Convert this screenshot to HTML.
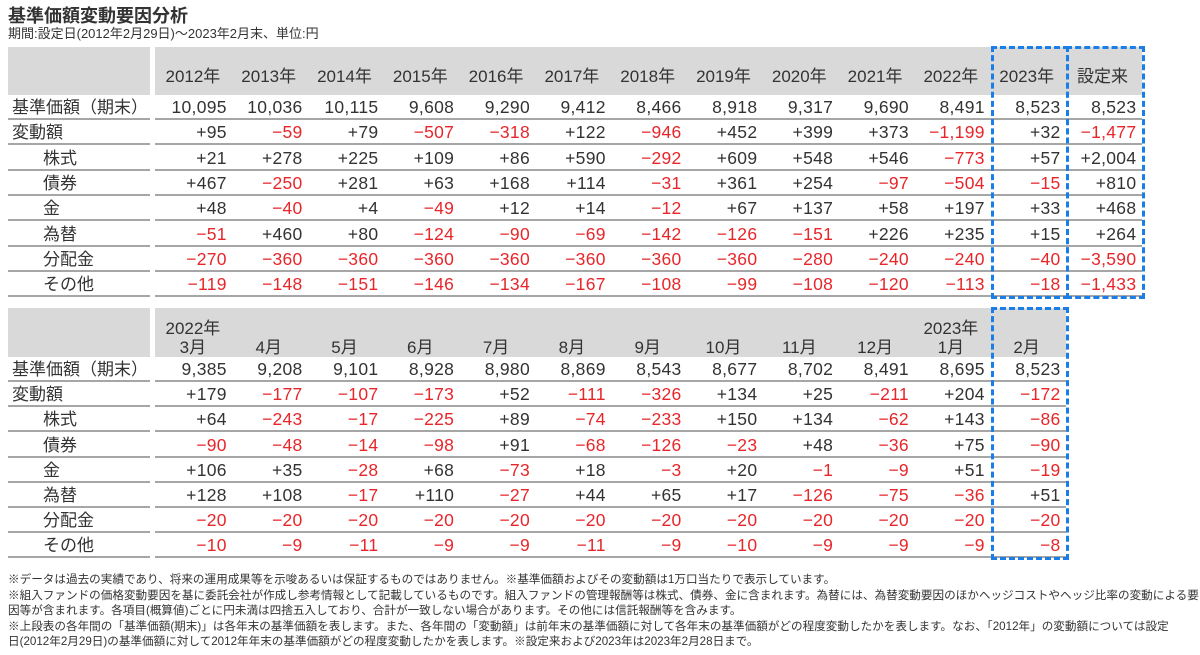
<!DOCTYPE html>
<html><head><meta charset="utf-8"><style>
body{margin:0;width:1200px;height:655px;background:#fff;position:relative;overflow:hidden;font-family:"Liberation Sans","Noto Sans CJK JP",sans-serif;color:#333}
.a{position:absolute}
.t{left:8px;top:2px;font-size:18px;font-weight:bold;color:#333}
.s{left:8px;top:23px;font-size:13px}
.gl{background:#d9d9d9}
.row{position:absolute;left:0;height:25px}
.lab{position:absolute;left:8px;width:142px;height:23px;border-bottom:2px solid #a6a6a6;font-size:17px;line-height:25px;white-space:nowrap}
.lab.i{text-indent:35px}.lab.n{text-indent:4px}
.dat{position:absolute;left:155px;height:23px;border-bottom:2px solid #a6a6a6;display:flex}
.dat span{width:75.8px;flex:none;text-align:right;padding-right:4px;box-sizing:border-box;font-size:17.5px;line-height:25px;letter-spacing:0.3px}
.r{color:#e8262a}
.hd{position:absolute;display:flex}
.hd span{width:75.8px;flex:none;text-align:center;font-size:17px}
.box{position:absolute;border:3px dashed #1a7ee6;box-sizing:border-box}
.fn{left:8px;font-size:11.6px;white-space:nowrap;line-height:15.6px}
</style></head><body>
<div class="a t">基準価額変動要因分析</div>
<div class="a s">期間:設定日(2012年2月29日)～2023年2月末、単位:円</div>

<div class="a gl" style="left:8px;top:47px;width:142px;height:48px"></div>
<div class="a gl" style="left:155px;top:47px;width:987px;height:48px"></div>
<div class="hd" style="left:155px;top:62px"><span>2012年</span><span>2013年</span><span>2014年</span><span>2015年</span><span>2016年</span><span>2017年</span><span>2018年</span><span>2019年</span><span>2020年</span><span>2021年</span><span>2022年</span><span>2023年</span><span>設定来</span></div>

<div class="row" style="top:95px"><div class="lab n">基準価額（期末）</div><div class="dat" style="width:987px"><span>10,095</span><span>10,036</span><span>10,115</span><span>9,608</span><span>9,290</span><span>9,412</span><span>8,466</span><span>8,918</span><span>9,317</span><span>9,690</span><span>8,491</span><span>8,523</span><span>8,523</span></div></div>
<div class="row" style="top:120.3px"><div class="lab n">変動額</div><div class="dat" style="width:987px"><span>+95</span><span class="r">−59</span><span>+79</span><span class="r">−507</span><span class="r">−318</span><span>+122</span><span class="r">−946</span><span>+452</span><span>+399</span><span>+373</span><span class="r">−1,199</span><span>+32</span><span class="r">−1,477</span></div></div>
<div class="row" style="top:145.6px"><div class="lab i">株式</div><div class="dat" style="width:987px"><span>+21</span><span>+278</span><span>+225</span><span>+109</span><span>+86</span><span>+590</span><span class="r">−292</span><span>+609</span><span>+548</span><span>+546</span><span class="r">−773</span><span>+57</span><span>+2,004</span></div></div>
<div class="row" style="top:170.9px"><div class="lab i">債券</div><div class="dat" style="width:987px"><span>+467</span><span class="r">−250</span><span>+281</span><span>+63</span><span>+168</span><span>+114</span><span class="r">−31</span><span>+361</span><span>+254</span><span class="r">−97</span><span class="r">−504</span><span class="r">−15</span><span>+810</span></div></div>
<div class="row" style="top:196.2px"><div class="lab i">金</div><div class="dat" style="width:987px"><span>+48</span><span class="r">−40</span><span>+4</span><span class="r">−49</span><span>+12</span><span>+14</span><span class="r">−12</span><span>+67</span><span>+137</span><span>+58</span><span>+197</span><span>+33</span><span>+468</span></div></div>
<div class="row" style="top:221.5px"><div class="lab i">為替</div><div class="dat" style="width:987px"><span class="r">−51</span><span>+460</span><span>+80</span><span class="r">−124</span><span class="r">−90</span><span class="r">−69</span><span class="r">−142</span><span class="r">−126</span><span class="r">−151</span><span>+226</span><span>+235</span><span>+15</span><span>+264</span></div></div>
<div class="row" style="top:246.8px"><div class="lab i">分配金</div><div class="dat" style="width:987px"><span class="r">−270</span><span class="r">−360</span><span class="r">−360</span><span class="r">−360</span><span class="r">−360</span><span class="r">−360</span><span class="r">−360</span><span class="r">−360</span><span class="r">−280</span><span class="r">−240</span><span class="r">−240</span><span class="r">−40</span><span class="r">−3,590</span></div></div>
<div class="row" style="top:272.1px"><div class="lab i">その他</div><div class="dat" style="width:987px"><span class="r">−119</span><span class="r">−148</span><span class="r">−151</span><span class="r">−146</span><span class="r">−134</span><span class="r">−167</span><span class="r">−108</span><span class="r">−99</span><span class="r">−108</span><span class="r">−120</span><span class="r">−113</span><span class="r">−18</span><span class="r">−1,433</span></div></div>

<div class="box" style="left:991px;top:46px;width:78px;height:253px"></div>
<div class="box" style="left:1066px;top:46px;width:79px;height:253px"></div>

<div class="a gl" style="left:8px;top:308px;width:142px;height:49px"></div>
<div class="a gl" style="left:155px;top:308px;width:911px;height:49px"></div>
<div class="hd" style="left:155px;top:314px"><span>2022年</span><span></span><span></span><span></span><span></span><span></span><span></span><span></span><span></span><span></span><span>2023年</span><span></span></div>
<div class="hd" style="left:155px;top:333px"><span>3月</span><span>4月</span><span>5月</span><span>6月</span><span>7月</span><span>8月</span><span>9月</span><span>10月</span><span>11月</span><span>12月</span><span>1月</span><span>2月</span></div>

<div class="row" style="top:357px"><div class="lab n">基準価額（期末）</div><div class="dat" style="width:911px"><span>9,385</span><span>9,208</span><span>9,101</span><span>8,928</span><span>8,980</span><span>8,869</span><span>8,543</span><span>8,677</span><span>8,702</span><span>8,491</span><span>8,695</span><span>8,523</span></div></div>
<div class="row" style="top:382.2px"><div class="lab n">変動額</div><div class="dat" style="width:911px"><span>+179</span><span class="r">−177</span><span class="r">−107</span><span class="r">−173</span><span>+52</span><span class="r">−111</span><span class="r">−326</span><span>+134</span><span>+25</span><span class="r">−211</span><span>+204</span><span class="r">−172</span></div></div>
<div class="row" style="top:407.4px"><div class="lab i">株式</div><div class="dat" style="width:911px"><span>+64</span><span class="r">−243</span><span class="r">−17</span><span class="r">−225</span><span>+89</span><span class="r">−74</span><span class="r">−233</span><span>+150</span><span>+134</span><span class="r">−62</span><span>+143</span><span class="r">−86</span></div></div>
<div class="row" style="top:432.6px"><div class="lab i">債券</div><div class="dat" style="width:911px"><span class="r">−90</span><span class="r">−48</span><span class="r">−14</span><span class="r">−98</span><span>+91</span><span class="r">−68</span><span class="r">−126</span><span class="r">−23</span><span>+48</span><span class="r">−36</span><span>+75</span><span class="r">−90</span></div></div>
<div class="row" style="top:457.8px"><div class="lab i">金</div><div class="dat" style="width:911px"><span>+106</span><span>+35</span><span class="r">−28</span><span>+68</span><span class="r">−73</span><span>+18</span><span class="r">−3</span><span>+20</span><span class="r">−1</span><span class="r">−9</span><span>+51</span><span class="r">−19</span></div></div>
<div class="row" style="top:483px"><div class="lab i">為替</div><div class="dat" style="width:911px"><span>+128</span><span>+108</span><span class="r">−17</span><span>+110</span><span class="r">−27</span><span>+44</span><span>+65</span><span>+17</span><span class="r">−126</span><span class="r">−75</span><span class="r">−36</span><span>+51</span></div></div>
<div class="row" style="top:508.2px"><div class="lab i">分配金</div><div class="dat" style="width:911px"><span class="r">−20</span><span class="r">−20</span><span class="r">−20</span><span class="r">−20</span><span class="r">−20</span><span class="r">−20</span><span class="r">−20</span><span class="r">−20</span><span class="r">−20</span><span class="r">−20</span><span class="r">−20</span><span class="r">−20</span></div></div>
<div class="row" style="top:533.4px"><div class="lab i">その他</div><div class="dat" style="width:911px"><span class="r">−10</span><span class="r">−9</span><span class="r">−11</span><span class="r">−9</span><span class="r">−9</span><span class="r">−11</span><span class="r">−9</span><span class="r">−10</span><span class="r">−9</span><span class="r">−9</span><span class="r">−9</span><span class="r">−8</span></div></div>

<div class="box" style="left:991px;top:307px;width:78px;height:253px"></div>

<div class="a fn" style="top:572px">※データは過去の実績であり、将来の運用成果等を示唆あるいは保証するものではありません。※基準価額およびその変動額は1万口当たりで表示しています。</div>
<div class="a fn" style="top:587.6px">※組入ファンドの価格変動要因を基に委託会社が作成し参考情報として記載しているものです。組入ファンドの管理報酬等は株式、債券、金に含まれます。為替には、為替変動要因のほかヘッジコストやヘッジ比率の変動による要</div>
<div class="a fn" style="top:603.2px">因等が含まれます。各項目(概算値)ごとに円未満は四捨五入しており、合計が一致しない場合があります。その他には信託報酬等を含みます。</div>
<div class="a fn" style="top:618.8px">※上段表の各年間の「基準価額(期末)」は各年末の基準価額を表します。また、各年間の「変動額」は前年末の基準価額に対して各年末の基準価額がどの程度変動したかを表します。なお、「2012年」の変動額については設定</div>
<div class="a fn" style="top:634.4px">日(2012年2月29日)の基準価額に対して2012年年末の基準価額がどの程度変動したかを表します。※設定来および2023年は2023年2月28日まで。</div>
</body></html>
